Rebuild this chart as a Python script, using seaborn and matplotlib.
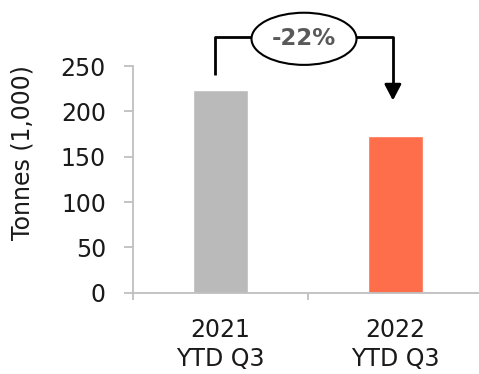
import matplotlib
matplotlib.use("Agg")
import matplotlib.pyplot as plt
from matplotlib.patches import Ellipse
import seaborn as sns

categories = ["2021\nYTD Q3", "2022\nYTD Q3"]
tonnes = [223, 173]
bar_colors = ["#BABABA", "#FF6E4A"]
y_ticks = [0, 50, 100, 150, 200, 250]

sns.set_theme(style="white")
plt.rcParams["font.family"] = ["DejaVu Sans"]

fig = plt.figure(figsize=(4.79, 3.74), dpi=100)
ax = fig.add_axes([0.2777, 0.2174, 0.7223, 0.6061])

sns.barplot(x=categories, y=tonnes, hue=categories, palette=bar_colors,
            legend=False, width=0.314, saturation=1, ax=ax)

ax.set_xlim(-0.5, 1.477)
ax.set_ylim(0, 250)
ax.set_yticks(y_ticks)
ax.set_yticklabels([str(t) for t in y_ticks])

spine_color = "#BFBFBF"
for side in ["top", "right"]:
    ax.spines[side].set_visible(False)
for side in ["left", "bottom"]:
    ax.spines[side].set_color(spine_color)
    ax.spines[side].set_linewidth(1.3)

ax.tick_params(axis="y", which="major", length=6.5, width=1.3, color=spine_color,
               direction="out", left=True, pad=13, labelsize=17, labelcolor="#1a1a1a")
ax.set_xticks([-0.5, 0.5], minor=True)
ax.tick_params(axis="x", which="minor", length=5, width=1.3, color=spine_color,
               direction="out", bottom=True)
ax.tick_params(axis="x", which="major", length=0, pad=18, labelsize=17,
               labelcolor="#1a1a1a")
for lbl in ax.get_xticklabels():
    lbl.set_linespacing(1.3)

ax.set_xlabel("")
ax.set_ylabel("Tonnes (1,000)", fontsize=17, color="#1a1a1a")
ax.yaxis.set_label_coords(-0.285, 0.62)

# change bracket from the first bar to the second
change = (tonnes[1] - tonnes[0]) / tonnes[0] * 100
top_y = 282
x_left = 0 - 0.03
x_right = 1 - 0.015
ell_x = 0.477
ell_w = 0.6
ell_h = 57.5

line_kw = dict(color="black", lw=2, clip_on=False, solid_capstyle="butt")
ax.plot([x_left, x_left, ell_x - ell_w / 2], [240, top_y, top_y], **line_kw)
ax.plot([ell_x + ell_w / 2, x_right, x_right], [top_y, top_y, 228], **line_kw)
ax.annotate("", xy=(x_right, 212), xytext=(x_right, 230),
            arrowprops=dict(arrowstyle="-|>,head_length=0.8,head_width=0.42",
                            color="black", lw=2, shrinkA=0, shrinkB=0),
            annotation_clip=False)
ax.add_patch(Ellipse((ell_x, top_y - 2), ell_w, ell_h, facecolor="white",
                     edgecolor="black", lw=1.5, clip_on=False, zorder=5))
ax.text(ell_x, top_y - 2, f"{change:.0f}%", ha="center", va="center",
        fontsize=16.5, fontweight="bold", color="#595959", zorder=6, clip_on=False)

fig.savefig("out.png", dpi=100)
